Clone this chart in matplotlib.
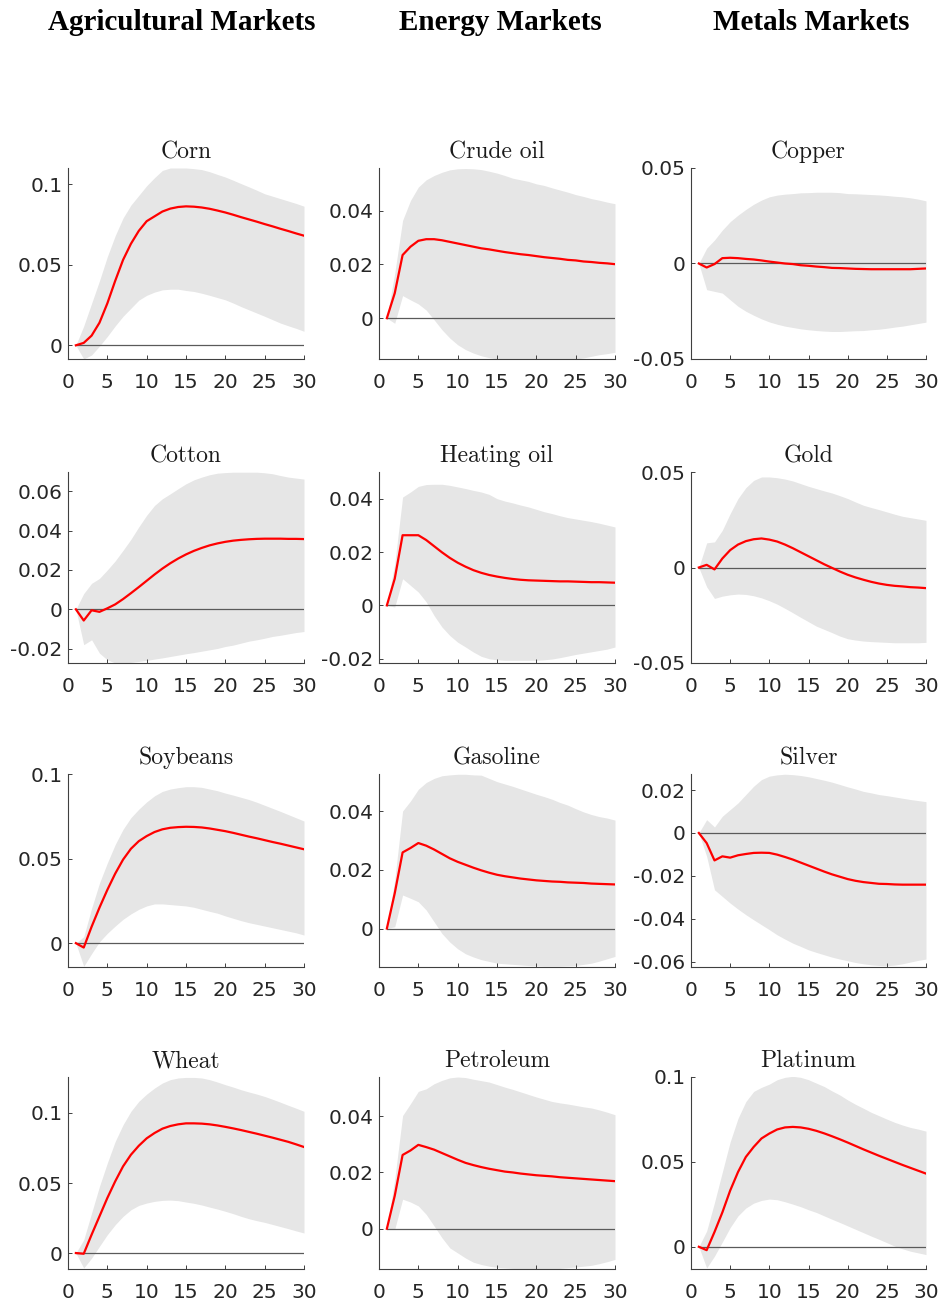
import numpy as np
import matplotlib
matplotlib.use("Agg")
import matplotlib.pyplot as plt

# ---------------- data ----------------
horizons = np.arange(1, 31)
xticks = [0, 5, 10, 15, 20, 25, 30]
column_titles = ["Agricultural Markets", "Energy Markets", "Metals Markets"]

corn_irf = [0.0, 0.0015, 0.006, 0.014, 0.026, 0.040, 0.053, 0.063, 0.071, 0.077, 0.080, 0.083, 0.0848, 0.0858, 0.0862,
            0.0860, 0.0855, 0.0847, 0.0836, 0.0824, 0.0810, 0.0795, 0.0781, 0.0767, 0.0752, 0.0738, 0.0723, 0.0709, 0.0694, 0.068]
corn_hi = [0.0, 0.012, 0.026, 0.040, 0.055, 0.068, 0.079, 0.087, 0.093, 0.099, 0.104, 0.1085, 0.110, 0.110, 0.110,
           0.1096, 0.109, 0.1077, 0.106, 0.1044, 0.1024, 0.1003, 0.0983, 0.0962, 0.094, 0.0925, 0.091, 0.0895, 0.088, 0.0863]
corn_lo = [0.0, -0.0085, -0.006, -0.0005, 0.0055, 0.012, 0.018, 0.023, 0.028, 0.031, 0.033, 0.0344, 0.0348, 0.0348, 0.034,
           0.0334, 0.0323, 0.031, 0.0296, 0.0282, 0.0262, 0.024, 0.022, 0.020, 0.018, 0.0159, 0.0138, 0.0121, 0.0105, 0.0087]

crude_irf = [0.0, 0.0093, 0.0235, 0.0266, 0.0288, 0.0294, 0.0294, 0.029, 0.0284, 0.0278, 0.0272, 0.0266, 0.026, 0.0256, 0.0251,
             0.0246, 0.0242, 0.0238, 0.0235, 0.0231, 0.0227, 0.0224, 0.0221, 0.0217, 0.0215, 0.0211, 0.0209, 0.0206, 0.0204, 0.0201]
crude_hi = [0.0, 0.0167, 0.0364, 0.0438, 0.0488, 0.0515, 0.0531, 0.0543, 0.0552, 0.0556, 0.0557, 0.0556, 0.0553, 0.0547, 0.054,
            0.0531, 0.0521, 0.0515, 0.0509, 0.050, 0.0494, 0.0485, 0.0477, 0.0469, 0.046, 0.0453, 0.0445, 0.0439, 0.0432, 0.0426]
crude_lo = [0.0, -0.0019, 0.0084, 0.0068, 0.0053, 0.003, -0.0006, -0.0043, -0.0074, -0.0099, -0.0117, -0.013, -0.014, -0.0147, -0.0151,
            -0.0152, -0.0152, -0.0152, -0.0152, -0.0152, -0.0152, -0.0152, -0.0152, -0.0152, -0.0152, -0.0148, -0.0142, -0.0136, -0.0132, -0.0127]

copper_irf = [0.0, -0.0021, -0.0003, 0.0028, 0.003, 0.0028, 0.0024, 0.0021, 0.0016, 0.001, 0.0005, 0.0, -0.0003, -0.0009, -0.0012,
              -0.0016, -0.0019, -0.0023, -0.0024, -0.0026, -0.0028, -0.0029, -0.003, -0.003, -0.003, -0.003, -0.003, -0.003, -0.0028, -0.0026]
copper_hi = [0.0, 0.008, 0.0123, 0.0175, 0.0219, 0.0253, 0.0283, 0.031, 0.0332, 0.0349, 0.0358, 0.0363, 0.0366, 0.037, 0.0371,
             0.0373, 0.0373, 0.0373, 0.0371, 0.0366, 0.0365, 0.0363, 0.0361, 0.0359, 0.0356, 0.0352, 0.0349, 0.0344, 0.0337, 0.0328]
copper_lo = [0.0, -0.0137, -0.0146, -0.0155, -0.019, -0.0224, -0.025, -0.0271, -0.029, -0.0306, -0.0318, -0.0328, -0.0335, -0.0342, -0.0347,
             -0.0351, -0.0354, -0.0356, -0.0356, -0.0354, -0.0352, -0.0351, -0.0347, -0.0344, -0.0339, -0.0333, -0.0328, -0.0321, -0.0314, -0.0307]

cotton_irf = [0.0, -0.0057, -0.0005, -0.0013, 0.0005, 0.0025, 0.0052, 0.0082, 0.0113, 0.0145, 0.0177, 0.0207, 0.0234, 0.0258, 0.0279,
              0.0297, 0.0312, 0.0325, 0.0335, 0.0343, 0.0349, 0.0353, 0.0356, 0.0358, 0.0359, 0.0359, 0.0359, 0.0358, 0.0358, 0.0357]
cotton_hi = [0.0, 0.008, 0.0132, 0.0157, 0.02, 0.0246, 0.030, 0.0356, 0.0419, 0.0478, 0.0528, 0.0562, 0.0587, 0.0613, 0.0638,
             0.0658, 0.0672, 0.0684, 0.0692, 0.0695, 0.0697, 0.0697, 0.0697, 0.0697, 0.0694, 0.0689, 0.0680, 0.0672, 0.0667, 0.0662]
cotton_lo = [0.0, -0.018, -0.0155, -0.0223, -0.0257, -0.0273, -0.0273, -0.027, -0.0265, -0.026, -0.0253, -0.0247, -0.024, -0.0233, -0.0226,
             -0.022, -0.0213, -0.0206, -0.0199, -0.0189, -0.0182, -0.0172, -0.0162, -0.0155, -0.0147, -0.0138, -0.0132, -0.0125, -0.0118, -0.0113]

heating_irf = [0.0, 0.01, 0.0263, 0.0263, 0.0263, 0.0245, 0.0222, 0.0199, 0.0178, 0.016, 0.0145, 0.0132, 0.0122, 0.0114, 0.0108,
               0.0103, 0.0099, 0.0096, 0.0094, 0.0093, 0.0092, 0.0091, 0.009, 0.009, 0.0089, 0.0088, 0.0087, 0.0087, 0.0086, 0.0085]
heating_hi = [0.0, 0.0156, 0.0406, 0.0425, 0.0446, 0.0453, 0.0454, 0.0454, 0.045, 0.0444, 0.0438, 0.0431, 0.0425, 0.0416, 0.040,
              0.0391, 0.0384, 0.0376, 0.0369, 0.036, 0.0351, 0.0344, 0.0336, 0.0329, 0.0324, 0.0319, 0.0314, 0.0308, 0.0301, 0.0294]
heating_lo = [0.0, -0.0006, 0.01, 0.0075, 0.005, 0.0013, -0.0038, -0.0081, -0.0113, -0.0138, -0.0156, -0.0175, -0.0191, -0.020, -0.0204,
              -0.0206, -0.0206, -0.0206, -0.0206, -0.0206, -0.0204, -0.0201, -0.0196, -0.019, -0.0184, -0.0179, -0.0174, -0.0169, -0.0164, -0.0156]

gold_irf = [0.0, 0.0014, -0.001, 0.0047, 0.0091, 0.012, 0.0138, 0.0148, 0.0152, 0.0146, 0.0136, 0.012, 0.0101, 0.008, 0.0059,
            0.0038, 0.0017, -0.0002, -0.0021, -0.0038, -0.0052, -0.0064, -0.0075, -0.0084, -0.0091, -0.0096, -0.0099, -0.0103, -0.0105, -0.0108]
gold_hi = [0.0, 0.0129, 0.0134, 0.0195, 0.0282, 0.0361, 0.0418, 0.0456, 0.0474, 0.0474, 0.047, 0.0463, 0.0453, 0.0439, 0.0425,
           0.0413, 0.0401, 0.039, 0.0376, 0.0361, 0.0343, 0.0326, 0.0314, 0.0303, 0.0291, 0.0279, 0.0268, 0.0261, 0.0254, 0.0247]
gold_lo = [0.0, -0.0101, -0.0162, -0.015, -0.0143, -0.0139, -0.0141, -0.0148, -0.0159, -0.0174, -0.0192, -0.0214, -0.0237, -0.0261, -0.0284,
           -0.0307, -0.0324, -0.0341, -0.0359, -0.0373, -0.038, -0.0385, -0.0388, -0.039, -0.0392, -0.0394, -0.0394, -0.0394, -0.0394, -0.0392]

soy_irf = [0.0, -0.0026, 0.0097, 0.021, 0.0315, 0.0411, 0.0494, 0.0558, 0.0603, 0.0633, 0.0657, 0.0673, 0.0682, 0.0686, 0.0688,
           0.0687, 0.0684, 0.0678, 0.067, 0.0662, 0.0652, 0.0641, 0.063, 0.062, 0.0609, 0.0598, 0.0588, 0.0577, 0.0566, 0.0555]
soy_hi = [0.0, 0.0038, 0.0206, 0.0355, 0.0474, 0.0583, 0.0673, 0.0742, 0.0792, 0.0835, 0.0871, 0.0897, 0.0911, 0.0919, 0.0925,
          0.0925, 0.0921, 0.0911, 0.0901, 0.0887, 0.0875, 0.0862, 0.0849, 0.0833, 0.0815, 0.0797, 0.0779, 0.0760, 0.0741, 0.0722]
soy_lo = [0.0, -0.0137, -0.0062, 0.0008, 0.0058, 0.0101, 0.0141, 0.0173, 0.02, 0.022, 0.0232, 0.0232, 0.0228, 0.0224, 0.022,
          0.0212, 0.02, 0.0188, 0.0177, 0.0161, 0.0147, 0.0133, 0.0121, 0.0111, 0.0101, 0.0091, 0.0081, 0.0071, 0.0061, 0.0048]

gas_irf = [0.0, 0.012, 0.0259, 0.0274, 0.0291, 0.0282, 0.0269, 0.0254, 0.0239, 0.0227, 0.0217, 0.0207, 0.0198, 0.019, 0.0183,
           0.0178, 0.0174, 0.017, 0.0167, 0.0164, 0.0162, 0.016, 0.0159, 0.0157, 0.0156, 0.0155, 0.0153, 0.0152, 0.0151, 0.015]
gas_hi = [0.0, 0.0166, 0.040, 0.0434, 0.0474, 0.0497, 0.0511, 0.052, 0.0523, 0.0525, 0.0525, 0.0523, 0.0522, 0.0511, 0.050,
          0.0492, 0.0484, 0.0475, 0.0466, 0.0457, 0.0449, 0.044, 0.0429, 0.042, 0.0408, 0.0397, 0.0388, 0.0381, 0.0376, 0.0369]
gas_lo = [0.0, 0.0006, 0.0114, 0.0103, 0.0091, 0.0063, 0.0023, -0.0017, -0.0046, -0.0069, -0.0086, -0.0097, -0.0106, -0.0112, -0.0118,
          -0.012, -0.0122, -0.0124, -0.0126, -0.0127, -0.0128, -0.0128, -0.0128, -0.0127, -0.0126, -0.0122, -0.0118, -0.0111, -0.0103, -0.0095]

silver_irf = [0.0, -0.0047, -0.0128, -0.0109, -0.0115, -0.0104, -0.0098, -0.0093, -0.0092, -0.0093, -0.0101, -0.0112, -0.0124, -0.0138, -0.0152,
              -0.0166, -0.018, -0.0193, -0.0204, -0.0215, -0.0223, -0.0229, -0.0233, -0.0237, -0.0238, -0.024, -0.0241, -0.0241, -0.0241, -0.0241]
silver_hi = [0.0, 0.0062, 0.0028, 0.0078, 0.0109, 0.014, 0.0179, 0.0218, 0.0249, 0.0265, 0.0271, 0.0274, 0.0272, 0.0268, 0.0262,
             0.0254, 0.0246, 0.0237, 0.0226, 0.0215, 0.0205, 0.0194, 0.0187, 0.0179, 0.0174, 0.0168, 0.0162, 0.0156, 0.0151, 0.0146]
silver_lo = [0.0, -0.0109, -0.0265, -0.0296, -0.0327, -0.0355, -0.0381, -0.0405, -0.0428, -0.0451, -0.0475, -0.0495, -0.0514, -0.0529, -0.0545,
             -0.0557, -0.0568, -0.0579, -0.0588, -0.0596, -0.0604, -0.061, -0.0615, -0.0618, -0.0619, -0.0616, -0.061, -0.0602, -0.0594, -0.0588]

wheat_irf = [0.0, -0.0005, 0.0131, 0.0262, 0.0393, 0.0512, 0.0619, 0.0702, 0.0766, 0.0819, 0.0857, 0.0888, 0.0907, 0.0919, 0.0926,
             0.0926, 0.0924, 0.0919, 0.0911, 0.0901, 0.089, 0.0878, 0.0865, 0.0852, 0.0838, 0.0824, 0.0809, 0.0794, 0.0776, 0.0757]
wheat_hi = [0.0, 0.0095, 0.0286, 0.0476, 0.0643, 0.0797, 0.0916, 0.1012, 0.1083, 0.1135, 0.1178, 0.1214, 0.1238, 0.125, 0.1254,
            0.1254, 0.125, 0.1238, 0.1221, 0.1202, 0.1185, 0.1166, 0.115, 0.1135, 0.1118, 0.1098, 0.1077, 0.1055, 0.1034, 0.1012]
wheat_lo = [0.0, -0.0107, -0.0036, 0.0048, 0.0131, 0.0202, 0.0262, 0.0309, 0.034, 0.0357, 0.0369, 0.0376, 0.0378, 0.0374, 0.0364,
            0.0355, 0.0343, 0.0328, 0.0314, 0.0298, 0.0281, 0.0262, 0.0245, 0.0231, 0.0219, 0.0204, 0.0189, 0.0174, 0.0158, 0.0143]

pet_irf = [0.0, 0.0117, 0.0262, 0.0278, 0.0298, 0.029, 0.0281, 0.0269, 0.0257, 0.0245, 0.0234, 0.0226, 0.0219, 0.0213, 0.0208,
           0.0203, 0.02, 0.0196, 0.0193, 0.019, 0.0188, 0.0186, 0.0183, 0.0181, 0.0179, 0.0177, 0.0175, 0.0173, 0.0171, 0.0169]
pet_hi = [0.0, 0.0176, 0.0402, 0.0444, 0.0488, 0.0497, 0.0515, 0.0527, 0.0536, 0.0539, 0.0537, 0.0531, 0.0526, 0.0521, 0.0512,
          0.0503, 0.0495, 0.0486, 0.0477, 0.0468, 0.046, 0.0452, 0.0447, 0.0443, 0.0438, 0.0433, 0.0429, 0.0422, 0.0414, 0.0405]
pet_lo = [0.0, -0.0002, 0.0105, 0.0095, 0.0081, 0.0051, 0.001, -0.0032, -0.0068, -0.0086, -0.0104, -0.0119, -0.0127, -0.0133, -0.0137,
          -0.0139, -0.0141, -0.0142, -0.0143, -0.0143, -0.0143, -0.0142, -0.0141, -0.0138, -0.0136, -0.0133, -0.013, -0.0124, -0.0117, -0.0109]

plat_irf = [0.0, -0.002, 0.0087, 0.0202, 0.0331, 0.044, 0.0529, 0.0588, 0.0638, 0.0667, 0.0691, 0.0703, 0.0706, 0.0703, 0.0695,
            0.0683, 0.0668, 0.0651, 0.0633, 0.0614, 0.0594, 0.0574, 0.0555, 0.0536, 0.0518, 0.05, 0.0482, 0.0465, 0.0448, 0.0431]
plat_hi = [0.0, 0.0093, 0.0261, 0.044, 0.0618, 0.0756, 0.0855, 0.0915, 0.0939, 0.0958, 0.0984, 0.0998, 0.1004, 0.0998, 0.0984,
           0.0964, 0.0944, 0.0918, 0.0894, 0.0865, 0.0839, 0.0816, 0.0792, 0.0772, 0.0752, 0.0733, 0.0717, 0.0703, 0.0693, 0.0681]
plat_lo = [0.0, -0.0125, -0.0055, 0.0028, 0.0113, 0.0182, 0.0228, 0.0257, 0.0273, 0.0281, 0.0277, 0.0265, 0.0251, 0.0236, 0.0218,
           0.0202, 0.0182, 0.0162, 0.0143, 0.0123, 0.0103, 0.0083, 0.0063, 0.0044, 0.0024, 0.0004, -0.0012, -0.0026, -0.0036, -0.0046]

# panel order: rows x columns
panel_titles = [["Corn", "Crude oil", "Copper"],
                ["Cotton", "Heating oil", "Gold"],
                ["Soybeans", "Gasoline", "Silver"],
                ["Wheat", "Petroleum", "Platinum"]]
panel_irf = [[corn_irf, crude_irf, copper_irf],
             [cotton_irf, heating_irf, gold_irf],
             [soy_irf, gas_irf, silver_irf],
             [wheat_irf, pet_irf, plat_irf]]
panel_hi = [[corn_hi, crude_hi, copper_hi],
            [cotton_hi, heating_hi, gold_hi],
            [soy_hi, gas_hi, silver_hi],
            [wheat_hi, pet_hi, plat_hi]]
panel_lo = [[corn_lo, crude_lo, copper_lo],
            [cotton_lo, heating_lo, gold_lo],
            [soy_lo, gas_lo, silver_lo],
            [wheat_lo, pet_lo, plat_lo]]
panel_yticks = [[[0, 0.05, 0.1], [0, 0.02, 0.04], [-0.05, 0, 0.05]],
                [[-0.02, 0, 0.02, 0.04, 0.06], [-0.02, 0, 0.02, 0.04], [-0.05, 0, 0.05]],
                [[0, 0.05, 0.1], [0, 0.02, 0.04], [-0.06, -0.04, -0.02, 0, 0.02]],
                [[0, 0.05, 0.1], [0, 0.02, 0.04], [0, 0.05, 0.1]]]
panel_ylim = [[(-0.0085, 0.110), (-0.0152, 0.0559), (-0.05, 0.05)],
              [(-0.0273, 0.0698), (-0.0216, 0.050), (-0.05, 0.05)],
              [(-0.0141, 0.1), (-0.0131, 0.0526), (-0.0625, 0.0275)],
              [(-0.0114, 0.1257), (-0.0143, 0.0539), (-0.0131, 0.1)]]

# ---------------- layout (pixels) ----------------
W, H = 942, 1308
col_left = [68, 379, 691]
col_width = [236, 236, 235]
row_top = [168, 472, 774, 1077]
row_bot = [359, 663, 967, 1269]
header_x = [182, 500, 811]


def fmt(v):
    return "%g" % v


fig = plt.figure(figsize=(W / 100, H / 100), dpi=100)
fig.patch.set_facecolor("white")

tick_font = dict(family=["DejaVu Sans"], size=14.5)

for r in range(4):
    for c in range(3):
        rect = [col_left[c] / W, 1 - row_bot[r] / H, col_width[c] / W, (row_bot[r] - row_top[r]) / H]
        ax = fig.add_axes(rect)
        hi = panel_hi[r][c]
        lo = panel_lo[r][c]
        irf = panel_irf[r][c]
        ax.fill_between(horizons, lo, hi, color="#e6e6e6", linewidth=0, zorder=1)
        ax.plot([horizons[0], horizons[-1]], [0, 0], color="#5a5a5a", linewidth=0.9, zorder=2)
        ax.plot(horizons, irf, color="#ff0000", linewidth=1.6, zorder=3)
        ax.set_xlim(0, 30)
        ax.set_ylim(*panel_ylim[r][c])
        ax.set_xticks(xticks)
        ax.set_xticklabels([str(t) for t in xticks], **tick_font)
        yt = panel_yticks[r][c]
        ax.set_yticks(yt)
        ax.set_yticklabels([fmt(t) for t in yt], **tick_font)
        for s in ["top", "right"]:
            ax.spines[s].set_visible(False)
        for s in ["left", "bottom"]:
            ax.spines[s].set_color("#404040")
            ax.spines[s].set_linewidth(0.8)
        ax.tick_params(direction="in", length=3, width=0.7, colors="#404040",
                       labelcolor="#262626")
        ax.tick_params(axis="x", pad=10)
        ax.tick_params(axis="y", pad=4)
        ax.set_title(panel_titles[r][c], family="cmr10", fontsize=17, pad=7, color="#1a1a1a")

for c in range(3):
    fig.text(header_x[c] / W, 1 - 23 / H, column_titles[c], ha="center", va="center",
             family=["Liberation Serif", "DejaVu Serif"], fontweight="bold", fontsize=21)

fig.savefig("out.png", dpi=100, facecolor="white")
